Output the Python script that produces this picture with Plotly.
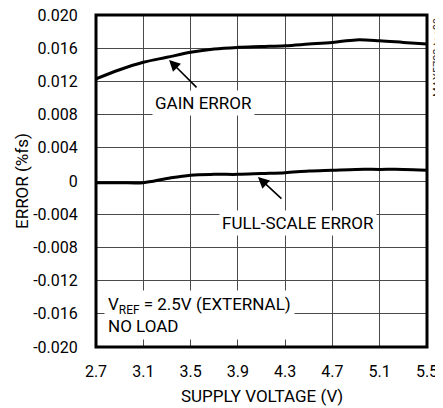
import plotly.graph_objects as go

supply_v = [2.7, 2.9, 3.1, 3.3, 3.5, 3.7, 3.9, 4.1, 4.3, 4.5, 4.7, 4.9, 5.1, 5.3, 5.5]
gain_error = [0.0123, 0.0134, 0.0143, 0.0149, 0.0155, 0.0159, 0.0161, 0.0162, 0.0163,
              0.0165, 0.0167, 0.0170, 0.0169, 0.0167, 0.0165]
fullscale_error = [-0.0002, -0.0002, -0.0002, 0.0003, 0.0007, 0.0008, 0.0008, 0.0009, 0.0010,
                   0.0012, 0.0013, 0.0014, 0.0014, 0.0014, 0.0013]

x_ticks = [2.7, 3.1, 3.5, 3.9, 4.3, 4.7, 5.1, 5.5]
x_ticktext = ["2.7", "3.1", "3.5", "3.9", "4.3", "4.7", "5.1", "5.5"]
y_ticks = [0.020, 0.016, 0.012, 0.008, 0.004, 0, -0.004, -0.008, -0.012, -0.016, -0.020]
y_ticktext = ["0.020", "0.016", "0.012", "0.008", "0.004", "0", "-0.004", "-0.008",
              "-0.012", "-0.016", "-0.020"]

FONT = "Roboto, Liberation Sans, sans-serif"
x_lo, x_hi = min(x_ticks), max(x_ticks)
y_lo, y_hi = min(y_ticks), max(y_ticks)

fig = go.Figure()
fig.add_trace(go.Scatter(x=supply_v, y=gain_error, mode="lines",
                         line=dict(color="black", width=3, shape="spline", smoothing=1.0),
                         showlegend=False, hoverinfo="skip"))
fig.add_trace(go.Scatter(x=supply_v, y=fullscale_error, mode="lines",
                         line=dict(color="black", width=3, shape="spline", smoothing=1.0),
                         showlegend=False, hoverinfo="skip"))

# frame
fig.add_shape(type="rect", xref="paper", yref="paper", x0=0, x1=1, y0=0, y1=1,
              line=dict(color="black", width=3), layer="above")

lab = dict(family=FONT, size=17, color="black")
annos = [
    dict(x=3.318, y=0.01459, text="", showarrow=True, ax=29, ay=29,
         arrowhead=2, arrowsize=1.4, arrowwidth=1.6, arrowcolor="black"),
    dict(x=4.07, y=0.00049, text="", showarrow=True, ax=25, ay=23,
         arrowhead=2, arrowsize=1.4, arrowwidth=1.6, arrowcolor="black"),
    dict(x=3.606, y=0.00941, text="GAIN ERROR", showarrow=False,
         bgcolor="white", borderpad=2),
    dict(x=4.408, y=-0.00505, text="FULL-SCALE ERROR", showarrow=False,
         bgcolor="white", borderpad=2),
    dict(x=2.77, y=-0.01619, text="V<sub>REF</sub> = 2.5V (EXTERNAL)<br>NO LOAD",
         showarrow=False, xanchor="left", align="left", bgcolor="white", borderpad=3),
]
for a in annos:
    fig.add_annotation(xref="x", yref="y", font=lab, **a)

# axis titles
fig.add_annotation(xref="paper", yref="paper", x=0.5, y=0, yshift=-49, yanchor="middle",
                   text="SUPPLY VOLTAGE (V)", showarrow=False, font=lab)
fig.add_annotation(xref="paper", yref="paper", x=0, y=0.5, xshift=-74, xanchor="center",
                   text="ERROR (%fs)", textangle=-90, showarrow=False, font=lab)
fig.add_annotation(xref="paper", yref="paper", x=1, y=1, xanchor="left", yanchor="top",
                   xshift=2, yshift=-1, text="MAX5723 toc09", textangle=-90, showarrow=False,
                   font=dict(family=FONT, size=11, color="#222"))

axcommon = dict(showgrid=True, gridcolor="#4a4a4a", gridwidth=1.3, zeroline=False,
                showline=False, ticks="outside", tickcolor="rgba(0,0,0,0)",
                ticklabeloverflow="allow", layer="below traces",
                automargin=False, tickfont=dict(family=FONT, size=16, color="black"))

fig.update_xaxes(range=[x_lo, x_hi], tickvals=x_ticks, ticktext=x_ticktext,
                 ticklen=10, **axcommon)
fig.update_yaxes(range=[y_lo, y_hi], tickvals=y_ticks, ticktext=y_ticktext,
                 ticklen=14, **axcommon)

# page body has an 8px margin: figure is offset by 8px in the window
fig.update_layout(width=435, height=400, margin=dict(l=88, r=16, t=7, b=61),
                  plot_bgcolor="white", paper_bgcolor="white",
                  font=dict(family=FONT, size=16, color="black"))

fig.write_html("out.html")
